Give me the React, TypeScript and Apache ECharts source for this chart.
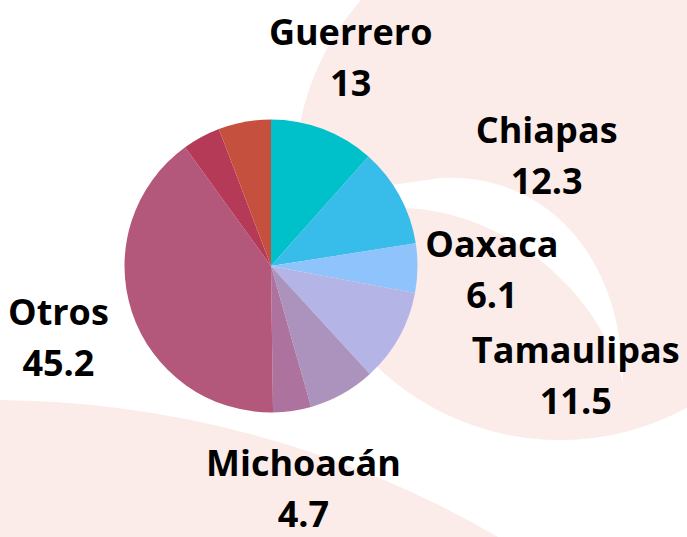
import React, { useEffect, useRef } from 'react';
import * as echarts from 'echarts';

// ---- Data ----
const stateNames: string[] = ['Guerrero', 'Chiapas', 'Oaxaca', 'Tamaulipas', '', 'Michoacán', 'Otros', '', ''];
const stateValues: number[] = [13, 12.3, 6.1, 11.5, 8.3, 4.7, 45.2, 4.7, 6.5];
const labelVisible: boolean[] = [true, true, true, true, false, true, true, false, false];

// ---- Styles ----
const palette = ['#00C1CA', '#38BCEA', '#8FC3FC', '#B4B5E6', '#AC93BD', '#AD729D', '#B3587B', '#B53A57', '#C6503E'];
const labelShift: Record<number, [number, number]> = { 1: [79, -4], 2: [-3, 0], 3: [109, 0] };
const BLOCK_SHIFT = -7.5;
const PINK = '#FBECE9';

const crescentD =
  'M623 382 C622 250 540 172 440 178 L385 186 L385 212 L405 208 C510 212 600 295 623 382 Z';
echarts.graphic.registerShape('crescent', echarts.graphic.extendPath(crescentD, {}));

export default function App() {
  const ref = useRef<HTMLDivElement>(null);
  useEffect(() => {
    if (!ref.current) return;
    const chart = echarts.init(ref.current, null, { renderer: 'svg' });
    const center = [271, 266];
    const font = { fontFamily: 'Open Sans', fontWeight: 'bold' as const, fontSize: 36, color: '#000000' };
    chart.setOption({
      animation: false,
      backgroundColor: '#ffffff',
      graphic: {
        elements: [
          { type: 'circle', z: 0, silent: true, shape: { cx: 560, cy: 175, r: 265 }, style: { fill: PINK } },
          { type: 'crescent', z: 1, silent: true, x: 0, y: 0, style: { fill: '#ffffff' } },
          { type: 'circle', z: 0, silent: true, shape: { cx: -10, cy: 1410, r: 1010 }, style: { fill: PINK } },
        ],
      },
      series: [
        {
          type: 'pie',
          z: 5,
          center,
          radius: [0, 146.5],
          startAngle: 90,
          clockwise: true,
          silent: true,
          label: { show: false },
          labelLine: { show: false },
          emphasis: { disabled: true },
          data: stateValues.map((v, i) => ({
            value: v,
            name: stateNames[i],
            itemStyle: { color: palette[i] },
          })),
        },
        {
          type: 'pie',
          z: 6,
          center,
          radius: [0, 442],
          startAngle: 90,
          clockwise: true,
          silent: true,
          itemStyle: { color: 'rgba(0,0,0,0)' },
          emphasis: { disabled: true },
          labelLine: { show: false },
          label: {
            show: true,
            position: 'inside',
            formatter: '{n|{b}}\n{v|{c}}',
            align: 'center',
            ...font,
            rich: {
              n: { ...font, lineHeight: 66, align: 'center' },
              v: { ...font, lineHeight: 36, align: 'center' },
            },
          },
          labelLayout: (params: any) => {
            const s = labelShift[params.dataIndex] || [0, 0];
            return { dx: s[0], dy: s[1] + BLOCK_SHIFT };
          },
          data: stateValues.map((v, i) => ({
            value: v,
            name: stateNames[i],
            label: { show: labelVisible[i] },
          })),
        },
      ],
    });
    return () => chart.dispose();
  }, []);
  return (
    <div
      ref={ref}
      style={{ position: 'fixed', left: 0, top: 0, width: 687, height: 537 }}
    />
  );
}
